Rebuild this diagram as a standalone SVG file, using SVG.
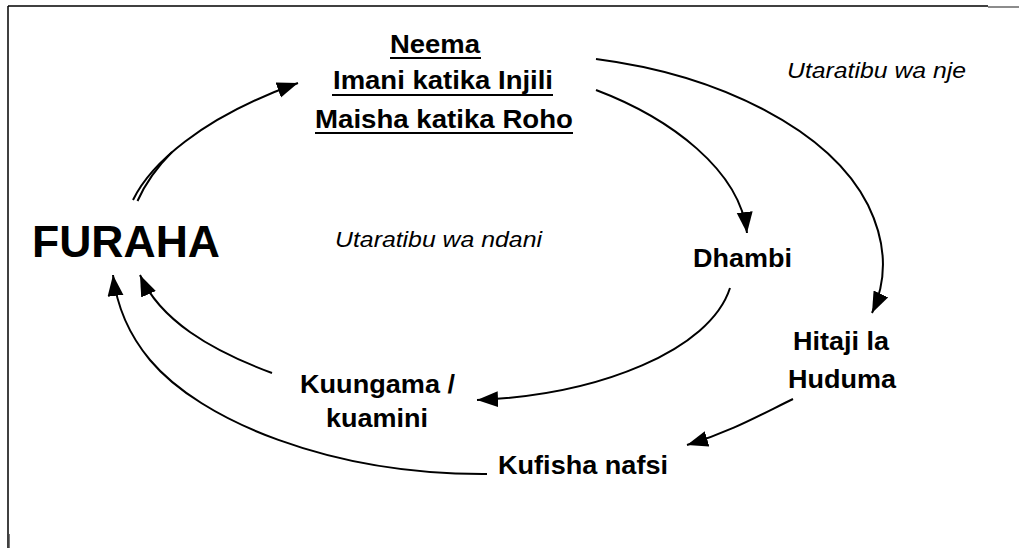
<svg xmlns="http://www.w3.org/2000/svg" width="1019" height="548" viewBox="0 0 1019 548">
<style>
.lbl{font-family:"Liberation Sans",Arial,sans-serif;font-weight:bold;font-size:26px;fill:#000}
.it{font-family:"Liberation Sans",Arial,sans-serif;font-style:italic;font-size:22px;fill:#000}
.big{font-family:"Liberation Sans",Arial,sans-serif;font-weight:bold;font-size:45px;fill:#000}
.ul{stroke:#000;stroke-width:2}
.c{fill:none;stroke:#000;stroke-width:2}
</style>
<defs>
<marker id="ah" markerUnits="userSpaceOnUse" markerWidth="24" markerHeight="18" refX="21" refY="8" orient="auto">
<path d="M0,0 L21,8 L0,16 Z" fill="#000"/>
</marker>
</defs>
<rect width="1019" height="548" fill="#fff"/>
<g id="frame">
<line x1="8" y1="6" x2="988" y2="6" stroke="#000" stroke-width="1.5"/>
<line x1="988" y1="7" x2="1019" y2="7" stroke="#666" stroke-width="1.5"/>
<line x1="8" y1="6" x2="8" y2="548" stroke="#000" stroke-width="1.5"/>
<line x1="9.5" y1="534" x2="9.5" y2="548" stroke="#777" stroke-width="1"/>
</g>
<g id="connectors">
<path class="c" d="M133,200 C150,165 200,118 298,83" stroke-width="3.5" marker-end="url(#ah)"/>
<path class="c" d="M137.5,201 C146,182 156,168 172,152" stroke-width="2"/>
<path class="c" d="M596,59 C720,75 830,130 868,205 C890,250 885,285 872,313" marker-end="url(#ah)"/>
<path class="c" d="M596,90 C670,118 740,170 747,233" marker-end="url(#ah)"/>
<path class="c" d="M730,288 C710,350 600,395 477,400" marker-end="url(#ah)"/>
<path class="c" d="M272,373 C210,350 160,320 140,275" marker-end="url(#ah)"/>
<path class="c" d="M793,399 C760,415 730,432 687,445" marker-end="url(#ah)"/>
<path class="c" d="M487,474 C330,475 200,420 150,360 C125,330 116,300 113,275" marker-end="url(#ah)"/>
</g>
<g id="node-top">
<text class="lbl" x="390" y="53" textLength="90" lengthAdjust="spacingAndGlyphs">Neema</text>
<line class="ul" x1="390" y1="58" x2="481" y2="58"/>
<text class="lbl" x="333" y="89" textLength="220" lengthAdjust="spacingAndGlyphs">Imani katika Injili</text>
<line class="ul" x1="332" y1="95" x2="553" y2="95"/>
<text class="lbl" x="315" y="128" textLength="258" lengthAdjust="spacingAndGlyphs">Maisha katika Roho</text>
<line class="ul" x1="315" y1="133" x2="573" y2="133"/>
</g>
<g id="node-furaha">
<text class="big" x="32" y="257" textLength="188" lengthAdjust="spacingAndGlyphs">FURAHA</text>
</g>
<g id="label-nje">
<text class="it" x="787" y="78" textLength="179" lengthAdjust="spacingAndGlyphs">Utaratibu wa nje</text>
</g>
<g id="label-ndani">
<text class="it" x="335" y="247" textLength="207" lengthAdjust="spacingAndGlyphs">Utaratibu wa ndani</text>
</g>
<g id="node-dhambi">
<text class="lbl" x="693" y="267" textLength="99" lengthAdjust="spacingAndGlyphs">Dhambi</text>
</g>
<g id="node-hitaji">
<text class="lbl" x="793" y="350" textLength="96" lengthAdjust="spacingAndGlyphs">Hitaji la</text>
<text class="lbl" x="788" y="388" textLength="108" lengthAdjust="spacingAndGlyphs">Huduma</text>
</g>
<g id="node-kuungama">
<text class="lbl" x="300" y="393" textLength="155" lengthAdjust="spacingAndGlyphs">Kuungama /</text>
<text class="lbl" x="326" y="427" textLength="102" lengthAdjust="spacingAndGlyphs">kuamini</text>
</g>
<g id="node-kufisha">
<text class="lbl" x="498" y="474" textLength="170" lengthAdjust="spacingAndGlyphs">Kufisha nafsi</text>
</g>
</svg>
